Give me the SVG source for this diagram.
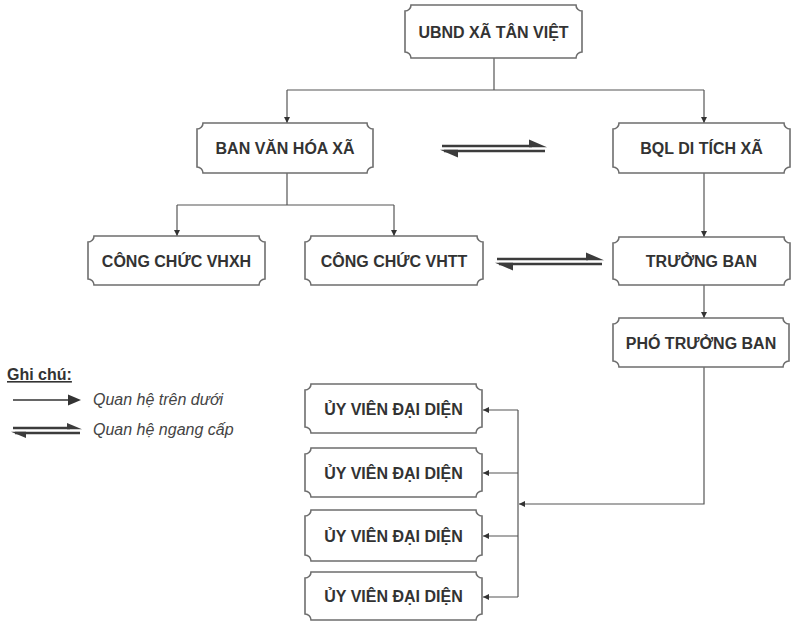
<svg xmlns="http://www.w3.org/2000/svg" width="791" height="621" viewBox="0 0 791 621">
<style>
.box{fill:#fff;stroke:#6e6e6e;stroke-width:1.6}
.lbl{font-family:"Liberation Sans",Arial,sans-serif;font-weight:bold;font-size:16px;fill:#333;text-anchor:middle}
.con{fill:none;stroke:#555;stroke-width:1.2}
.hl{fill:none;stroke:#3c3c3c;stroke-width:2.6}
.hh{fill:#3c3c3c}
.leg{font-family:"Liberation Sans",Arial,sans-serif;font-size:16px;fill:#444;font-style:italic}
.legt{font-family:"Liberation Sans",Arial,sans-serif;font-size:16px;fill:#333;font-weight:bold;text-decoration:underline}
</style>
<defs>
<marker id="ah" viewBox="0 0 10 10" refX="10" refY="5" markerWidth="6" markerHeight="6" markerUnits="userSpaceOnUse" orient="auto">
<path d="M0,0 L10,5 L0,10 Z" fill="#333"/>
</marker>
</defs>
<g id="connectors">
<path class="con" d="M494,58 V90 M287,90 H704" />
<path class="con" d="M287,90 V123" marker-end="url(#ah)"/>
<path class="con" d="M704,90 V123" marker-end="url(#ah)"/>
<path class="con" d="M287,173 V205 M177,205 H394"/>
<path class="con" d="M177,205 V236" marker-end="url(#ah)"/>
<path class="con" d="M394,205 V236" marker-end="url(#ah)"/>
<path class="con" d="M704,173 V237" marker-end="url(#ah)"/>
<path class="con" d="M704,285 V318" marker-end="url(#ah)"/>
<path class="con" d="M704,367 V504 H519" marker-end="url(#ah)"/>
<path class="con" d="M518,410 V597"/>
<path class="con" d="M518,410 H483" marker-end="url(#ah)"/>
<path class="con" d="M518,473 H483" marker-end="url(#ah)"/>
<path class="con" d="M518,536 H483" marker-end="url(#ah)"/>
<path class="con" d="M518,597 H483" marker-end="url(#ah)"/>
<g id="peer1">
<path class="hl" d="M442,146 H532 M444,151 H545"/>
<path class="hh" d="M547,147.3 L529,139.5 L529,147.3 Z"/>
<path class="hh" d="M440,149.7 L458,157.5 L458,149.7 Z"/>
</g>
<g id="peer2">
<path class="hl" d="M497,259 H588 M499,264 H602"/>
<path class="hh" d="M604,260.3 L586,252.5 L586,260.3 Z"/>
<path class="hh" d="M495,262.7 L513,270.5 L513,262.7 Z"/>
</g>
</g>
<g id="n-ubnd"><path class="box" d="M411,5 H576 A6,6 0 0 0 582,11 V52 A6,6 0 0 0 576,58 H411 A6,6 0 0 0 405,52 V11 A6,6 0 0 0 411,5 Z"/><text class="lbl" x="493.5" y="37.5">UBND XÃ TÂN VIỆT</text></g>
<g id="n-banvanhoa"><path class="box" d="M203,123 H367 A6,6 0 0 0 373,129 V167 A6,6 0 0 0 367,173 H203 A6,6 0 0 0 197,167 V129 A6,6 0 0 0 203,123 Z"/><text class="lbl" x="285" y="154">BAN VĂN HÓA XÃ</text></g>
<g id="n-bql"><path class="box" d="M619,123 H784 A6,6 0 0 0 790,129 V167 A6,6 0 0 0 784,173 H619 A6,6 0 0 0 613,167 V129 A6,6 0 0 0 619,123 Z"/><text class="lbl" x="701.5" y="154">BQL DI TÍCH XÃ</text></g>
<g id="n-vhxh"><path class="box" d="M94,236 H259 A6,6 0 0 0 265,242 V279 A6,6 0 0 0 259,285 H94 A6,6 0 0 0 88,279 V242 A6,6 0 0 0 94,236 Z"/><text class="lbl" x="176.5" y="266.5">CÔNG CHỨC VHXH</text></g>
<g id="n-vhtt"><path class="box" d="M311,236 H477 A6,6 0 0 0 483,242 V279 A6,6 0 0 0 477,285 H311 A6,6 0 0 0 305,279 V242 A6,6 0 0 0 311,236 Z"/><text class="lbl" x="394" y="266.5">CÔNG CHỨC VHTT</text></g>
<g id="n-truongban"><path class="box" d="M619,237 H784 A6,6 0 0 0 790,243 V279 A6,6 0 0 0 784,285 H619 A6,6 0 0 0 613,279 V243 A6,6 0 0 0 619,237 Z"/><text class="lbl" x="701.5" y="267">TRƯỞNG BAN</text></g>
<g id="n-photruongban"><path class="box" d="M619,318 H783 A6,6 0 0 0 789,324 V361 A6,6 0 0 0 783,367 H619 A6,6 0 0 0 613,361 V324 A6,6 0 0 0 619,318 Z"/><text class="lbl" x="701" y="348.5">PHÓ TRƯỞNG BAN</text></g>
<g id="n-uyvien1"><path class="box" d="M311,384 H476 A6,6 0 0 0 482,390 V427 A6,6 0 0 0 476,433 H311 A6,6 0 0 0 305,427 V390 A6,6 0 0 0 311,384 Z"/><text class="lbl" x="393.5" y="414.5">ỦY VIÊN ĐẠI DIỆN</text></g>
<g id="n-uyvien2"><path class="box" d="M311,448 H476 A6,6 0 0 0 482,454 V491 A6,6 0 0 0 476,497 H311 A6,6 0 0 0 305,491 V454 A6,6 0 0 0 311,448 Z"/><text class="lbl" x="393.5" y="478.5">ỦY VIÊN ĐẠI DIỆN</text></g>
<g id="n-uyvien3"><path class="box" d="M311,510 H476 A6,6 0 0 0 482,516 V555 A6,6 0 0 0 476,561 H311 A6,6 0 0 0 305,555 V516 A6,6 0 0 0 311,510 Z"/><text class="lbl" x="393.5" y="541.5">ỦY VIÊN ĐẠI DIỆN</text></g>
<g id="n-uyvien4"><path class="box" d="M311,572 H476 A6,6 0 0 0 482,578 V614 A6,6 0 0 0 476,620 H311 A6,6 0 0 0 305,614 V578 A6,6 0 0 0 311,572 Z"/><text class="lbl" x="393.5" y="602">ỦY VIÊN ĐẠI DIỆN</text></g>
<g id="legend">
<text class="legt" x="7" y="380">Ghi chú:</text>
<path d="M13,400 H70" stroke="#333" stroke-width="1.4"/>
<path d="M81,400 L68,394.5 L68,405.5 Z" fill="#333"/>
<text class="leg" x="93" y="405">Quan hệ trên dưới</text>
<path class="hl" d="M13,428 H70 M15,433 H80"/>
<path class="hh" d="M82,429.3 L67,423 L67,429.3 Z"/>
<path class="hh" d="M11,431.7 L26,438 L26,431.7 Z"/>
<text class="leg" x="93" y="435">Quan hệ ngang cấp</text>
</g>
</svg>
